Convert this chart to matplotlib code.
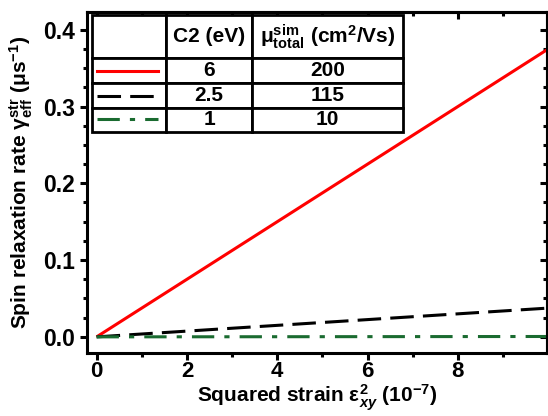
import matplotlib
matplotlib.use("Agg")
import matplotlib.pyplot as plt
from matplotlib.ticker import MultipleLocator, FormatStrFormatter

plt.rcParams['font.family'] = ['Liberation Sans', 'DejaVu Sans']
plt.rcParams['font.weight'] = 'bold'
plt.rcParams['axes.labelweight'] = 'bold'
plt.rcParams['mathtext.fontset'] = 'custom'
plt.rcParams['mathtext.rm'] = 'Liberation Sans:bold'
plt.rcParams['mathtext.bf'] = 'Liberation Sans:bold'
plt.rcParams['mathtext.it'] = 'Liberation Sans:bold:italic'

# data
strain = [0, 2, 4, 6, 8, 10]
rate_c6 = [0, 0.075, 0.150, 0.225, 0.300, 0.375]
rate_c25 = [0, 0.0075, 0.015, 0.0225, 0.030, 0.0375]
rate_c1 = [0, 0.0001, 0.0002, 0.0003, 0.0004, 0.0005]

c2_vals = ['6', '2.5', '1']
mu_vals = ['200', '115', '10']

RED = '#ff0000'
GREEN = '#1a6b30'
DASH = (7.7, 3.0)
DASHDOT = (7.3, 3.3, 1.7, 3.3)

fig = plt.figure(figsize=(5.48, 4.16), dpi=100)
ax = fig.add_axes([0.159, 0.152, 0.839, 0.819])

lw = 2.2
ax.plot(strain, rate_c6, color=RED, lw=lw, solid_capstyle='butt')
ax.plot(strain, rate_c25, color='black', lw=lw, dashes=DASH)
ax.plot(strain, rate_c1, color=GREEN, lw=lw, dashes=DASHDOT)

ax.set_xlim(-0.21, 9.97)
ax.set_ylim(-0.0207, 0.423)
ax.xaxis.set_major_locator(MultipleLocator(2))
ax.xaxis.set_minor_locator(MultipleLocator(1))
ax.yaxis.set_major_locator(MultipleLocator(0.1))
ax.yaxis.set_minor_locator(MultipleLocator(0.025))
ax.yaxis.set_major_formatter(FormatStrFormatter('%.1f'))

for s in ax.spines.values():
    s.set_linewidth(2.2)
ax.tick_params(which='both', direction='out', width=2.2, labelsize=16.5)
ax.tick_params(axis='x', pad=1, labelsize=16)
ax.tick_params(which='major', length=5)
ax.tick_params(which='minor', length=3)

# inward ticks on top and right
top = ax.secondary_xaxis('top')
right = ax.secondary_yaxis('right')
top.xaxis.set_major_locator(MultipleLocator(2))
top.xaxis.set_minor_locator(MultipleLocator(1))
right.yaxis.set_major_locator(MultipleLocator(0.1))
right.yaxis.set_minor_locator(MultipleLocator(0.025))
for sec in (top, right):
    sec.tick_params(which='both', direction='in', width=2.2, labelleft=False,
                    labelright=False, labeltop=False, labelbottom=False)
    sec.tick_params(which='major', length=5)
    sec.tick_params(which='minor', length=3)
    for s in sec.spines.values():
        s.set_linewidth(2.2)

ax.set_xlabel(r'Squared strain ε$_{\mathit{xy}}^{\mathbf{2}}$ (10$^{\mathbf{-7}}$)',
              fontsize=15)
ax.xaxis.set_label_coords(0.5, -0.145)
ax.xaxis.label.set_va('baseline')
ax.set_ylabel(r'Spin relaxation rate γ$_{\mathbf{eff}}^{\mathbf{str}}$ (μs$^{\mathbf{-1}}$)',
              fontsize=15, labelpad=6)

# legend table
header = ['', 'C2 (eV)', r'μ$_{\mathbf{total}}^{\mathbf{sim}}$ (cm$^{\mathbf{2}}$/Vs)']
rows = [['', c, m] for c, m in zip(c2_vals, mu_vals)]
tbl = ax.table(cellText=[header] + rows, cellLoc='center',
               colWidths=[74, 86, 151], bbox=[0.011, 0.647, 0.676, 0.344])
tbl.auto_set_font_size(False)
tbl.set_fontsize(15)
for (i, j), cell in tbl.get_celld().items():
    cell.set_linewidth(2.0)
    cell.set_edgecolor('black')
    cell.set_facecolor('white')
    cell.set_height(43 if i == 0 else 25)
    cell.get_text().set_fontweight('bold')
tbl.set_zorder(5)

# line samples in the first column
row_y = [0.828, 0.755, 0.685]
sample_x = [0.022, 0.155]
ax.plot(sample_x, [row_y[0]] * 2, transform=ax.transAxes, color=RED,
        lw=lw, clip_on=False, zorder=6)
ax.plot(sample_x, [row_y[1]] * 2, transform=ax.transAxes, color='black',
        lw=lw, dashes=DASH, clip_on=False, zorder=6)
ax.plot(sample_x, [row_y[2]] * 2, transform=ax.transAxes, color=GREEN,
        lw=lw, dashes=DASHDOT, clip_on=False, zorder=6)

fig.savefig('out.png', dpi=100)
